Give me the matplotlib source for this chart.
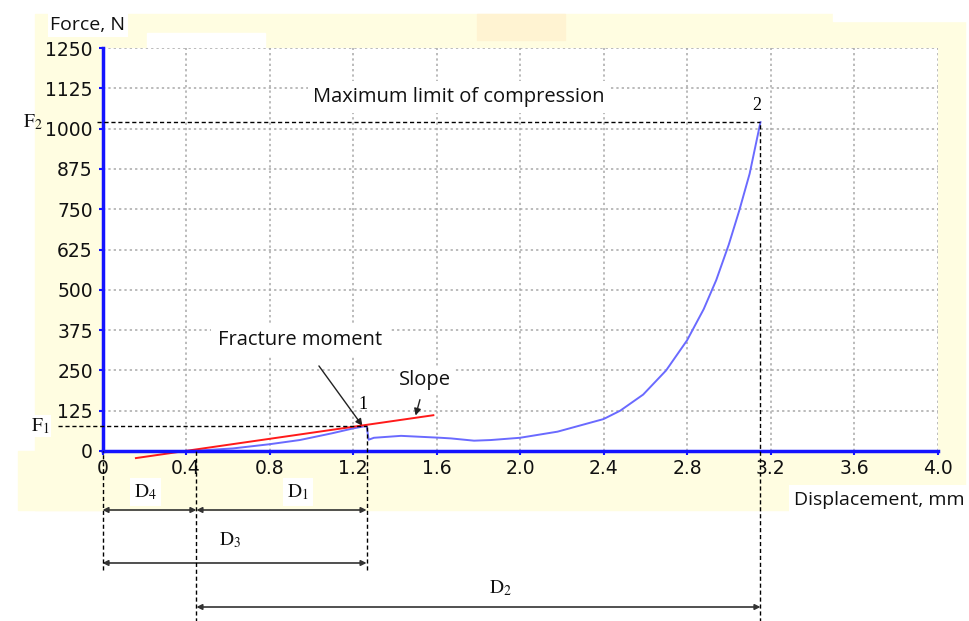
import matplotlib.pyplot as plt
from matplotlib.patches import Rectangle
from matplotlib.transforms import blended_transform_factory

# force-displacement curve
disp = [0.42, 0.50, 0.625, 0.80, 0.945, 1.10, 1.20, 1.265, 1.275, 1.30, 1.43, 1.62,
        1.67, 1.78, 1.86, 2.00, 2.18, 2.40, 2.48, 2.59, 2.70, 2.80, 2.88,
        2.94, 3.00, 3.05, 3.10, 3.152]
force = [0, 3, 8, 21, 34, 55, 70, 78, 35, 41, 47, 41,
         39, 32, 34, 41, 60, 99, 125, 175, 250, 343, 440,
         530, 640, 745, 860, 1020]

# tangent ("slope") line
slope_x = [0.16, 1.585]
slope_y = [-22, 111]

# characteristic points
x1, F1 = 1.265, 78      # fracture moment
x2, F2 = 3.152, 1020    # maximum compression
x_d4 = 0.45             # slope intercept

xticks = [0, 0.4, 0.8, 1.2, 1.6, 2.0, 2.4, 2.8, 3.2, 3.6, 4.0]
xtick_labels = ['0', '0.4', '0.8', '1.2', '1.6', '2.0', '2.4', '2.8', '3.2', '3.6', '4.0']
yticks = [0, 125, 250, 375, 500, 625, 750, 875, 1000, 1125, 1250]

plt.rcParams['mathtext.fontset'] = 'stix'

fig = plt.figure(figsize=(9.69, 6.21), dpi=100)
W, H = 969, 621

# yellowish background panels
def panel(x0, y0, x1_, y1_, c):
    fig.patches.append(Rectangle((x0 / W, 1 - y1_ / H), (x1_ - x0) / W, (y1_ - y0) / H,
                                 transform=fig.transFigure, color=c, zorder=-5))

panel(35, 14, 965, 510, '#fffde1')
panel(18, 451, 100, 510, '#fffde1')
panel(477, 14, 565, 40, '#fff3d2')
panel(833, 10, 969, 21, 'white')
panel(147, 33, 265, 48, 'white')

ax = fig.add_axes([102.5 / W, 1 - 451 / H, 835 / W, 403 / H])
ax.set_facecolor('white')

ax.plot(disp, force, color='#6a6aff', lw=1.4, zorder=3)
ax.plot(slope_x, slope_y, color='#ff1a1a', lw=1.4, zorder=4, clip_on=False)

ax.set_xlim(0, 4.0)
ax.set_ylim(0, 1250)
ax.set_xticks(xticks)
ax.set_xticklabels(xtick_labels)
ax.set_yticks(yticks)

for side in ['top', 'right']:
    ax.spines[side].set_visible(False)
for side in ['left', 'bottom']:
    ax.spines[side].set_color('#1414ff')
    ax.spines[side].set_linewidth(2.5)
    ax.spines[side].set_zorder(5)

ax.tick_params(colors='#1414ff', length=3, width=1.5, labelcolor='#111111',
               labelsize=13.5)
ax.tick_params(axis='y', pad=4)
ax.tick_params(axis='x', pad=3)
ax.grid(True, color='#a8a8a8', linestyle=(0, (1.5, 2)), lw=1.1)
ax.set_axisbelow(True)

# dashed guide lines
dash = dict(color='black', lw=1, linestyle=(0, (3, 2)), clip_on=False, zorder=6)
ax.axhline(F1, xmin=-0.0533, xmax=x1 / 4.0, **dash)
ax.axhline(F2, xmin=-0.0066, xmax=x2 / 4.0, **dash)
ax.axvline(x1, ymin=-0.295, ymax=F1 / 1250, **dash)
ax.axvline(x2, ymin=-0.43, ymax=F2 / 1250, **dash)
ax.axvline(0, ymin=-0.295, ymax=0, **dash)
ax.axvline(x_d4, ymin=-0.43, ymax=0, **dash)

# dimension arrows
trans = blended_transform_factory(ax.transData, ax.transAxes)
dims = [(0, x_d4, -0.1464), (x_d4, x1, -0.1464), (0, x1, -0.2779), (x_d4, x2, -0.3871)]
for xa, xb, yy in dims:
    ax.annotate('', xy=(xb, yy), xytext=(xa, yy), xycoords=trans, textcoords=trans,
                arrowprops=dict(arrowstyle='<|-|>', color='#333333', lw=1.2,
                                mutation_scale=8, shrinkA=0, shrinkB=0),
                annotation_clip=False)

serif = dict(fontsize=14, color='#111111', ha='center', va='center', transform=trans)
wbox = dict(facecolor='white', edgecolor='none', pad=3)
ax.text(0.204, -0.1017, r'$\mathrm{D}_4$', bbox=wbox, **serif)
ax.text(0.937, -0.1017, r'$\mathrm{D}_1$', bbox=wbox, **serif)
ax.text(0.611, -0.2208, r'$\mathrm{D}_3$', **serif)
ax.text(1.905, -0.3400, r'$\mathrm{D}_2$', **serif)

ftrans = blended_transform_factory(ax.transAxes, ax.transData)
ax.text(-0.0749, F1, r'$\mathrm{F}_1$', fontsize=14, color='#111111', ha='center',
        va='center', transform=ftrans, bbox=dict(facecolor='white', edgecolor='none', pad=1))
ax.text(-0.0832, F2, r'$\mathrm{F}_2$', fontsize=14, color='#111111', ha='center',
        va='center', transform=ftrans)

ax.text(1.249, 143, '1', fontsize=13, family='Liberation Serif', ha='center', va='center')
ax.text(3.133, 1073, '2', fontsize=13, family='Liberation Serif', ha='center', va='center')

sans = dict(family='Open Sans', color='#111111')
ax.text(1.01, 1098, 'Maximum limit of compression', fontsize=14.5, ha='left', va='center',
        bbox=dict(facecolor='white', edgecolor='none', pad=4), **sans)
ax.text(-0.0623, 1.057, 'Force, N', fontsize=14, ha='left', va='center',
        transform=ax.transAxes, bbox=dict(facecolor='white', edgecolor='none', pad=2), **sans)
ax.text(1.033, -0.1216, 'Displacement, mm', fontsize=14, ha='right', va='center',
        transform=ax.transAxes, bbox=dict(facecolor='white', edgecolor='none', pad=4), **sans)

ax.annotate('Fracture moment', xy=(x1 - 0.02, F1), xytext=(0.947, 344), fontsize=14.5,
            ha='center', va='center',
            bbox=dict(facecolor='white', edgecolor='none', pad=5),
            arrowprops=dict(arrowstyle='-|>', color='#222222', lw=1, mutation_scale=10,
                            shrinkA=8, shrinkB=0), **sans)
ax.annotate('Slope', xy=(1.50, 110), xytext=(1.546, 220), fontsize=14.5,
            ha='center', va='center',
            bbox=dict(facecolor='white', edgecolor='none', pad=3),
            arrowprops=dict(arrowstyle='-|>', color='#222222', lw=1, mutation_scale=10,
                            shrinkA=4, shrinkB=0), **sans)

fig.savefig('out.png', dpi=100)
